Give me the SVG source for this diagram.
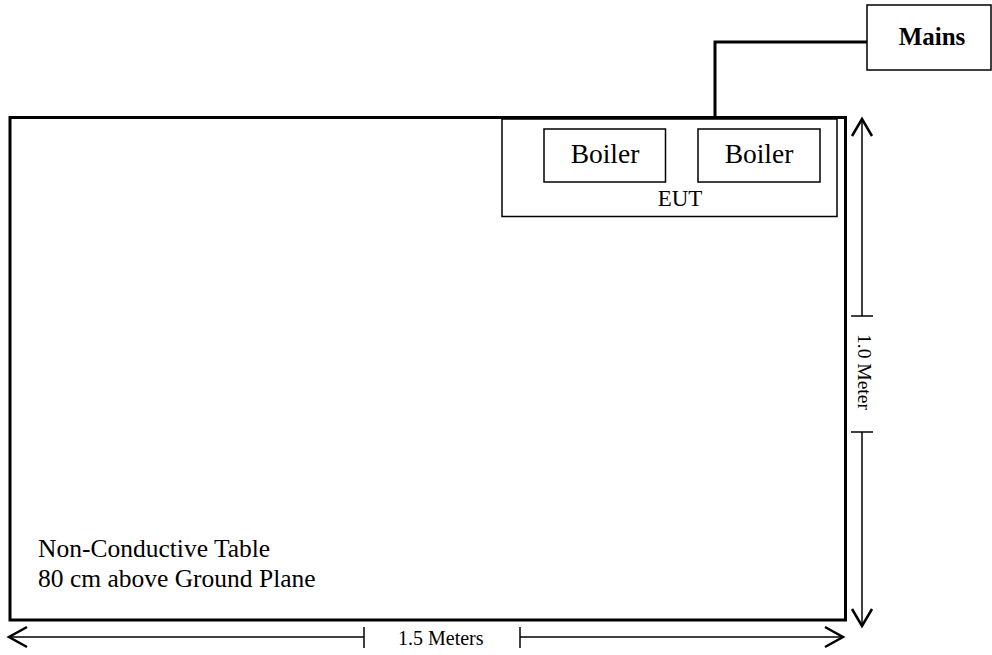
<svg xmlns="http://www.w3.org/2000/svg" width="992" height="655" viewBox="0 0 992 655">
<style>
text{font-family:"Liberation Serif","Times New Roman",serif;fill:#000}
.thick{fill:none;stroke:#000;stroke-width:3}
.thin{fill:none;stroke:#000;stroke-width:1.5}
.dim{fill:none;stroke:#000;stroke-width:1.5}
.head{fill:none;stroke:#000;stroke-width:2.5;stroke-linejoin:miter}
</style>
<rect width="992" height="655" fill="#fff"/>
<g id="table">
<rect class="thick" x="10" y="117.5" width="835.5" height="502.5"/>
<text x="38" y="557" font-size="25.5">Non-Conductive Table</text>
<text x="38" y="587" font-size="25.5">80 cm above Ground Plane</text>
</g>
<g id="eut">
<rect class="thin" x="502" y="119" width="335" height="97.5"/>
<text x="680" y="206" font-size="23" text-anchor="middle">EUT</text>
</g>
<g id="boiler1">
<rect class="thin" x="544" y="129" width="121.5" height="53"/>
<text x="605" y="163" font-size="27.5" text-anchor="middle">Boiler</text>
</g>
<g id="boiler2">
<rect class="thin" x="698" y="129" width="122" height="53"/>
<text x="759" y="163" font-size="27.5" text-anchor="middle">Boiler</text>
</g>
<g id="mains">
<rect class="thin" x="867" y="5" width="124" height="65"/>
<text x="932" y="45" font-size="25" font-weight="bold" text-anchor="middle">Mains</text>
</g>
<g id="connectors">
<polyline class="thick" points="715,117 715,42 867,42"/>
<line class="dim" x1="862" y1="119" x2="862" y2="316"/>
<line class="dim" x1="851" y1="316" x2="873" y2="316"/>
<line class="dim" x1="862" y1="432" x2="862" y2="626"/>
<line class="dim" x1="851" y1="432" x2="873" y2="432"/>
<polyline class="head" points="852,136 862,119 872,136"/>
<polyline class="head" points="852,609 862,626 872,609"/>
<line class="dim" x1="9" y1="637" x2="364" y2="637"/>
<line class="dim" x1="364" y1="627" x2="364" y2="648"/>
<line class="dim" x1="520" y1="637" x2="843" y2="637"/>
<line class="dim" x1="520" y1="627" x2="520" y2="648"/>
<polyline class="head" points="27,627 9,637 27,647"/>
<polyline class="head" points="825,627 843,637 825,647"/>
<text x="398" y="645" font-size="20">1.5 Meters</text>
<text transform="translate(858,372) rotate(90)" font-size="19.5" text-anchor="middle">1.0 Meter</text>
</g>
</svg>
